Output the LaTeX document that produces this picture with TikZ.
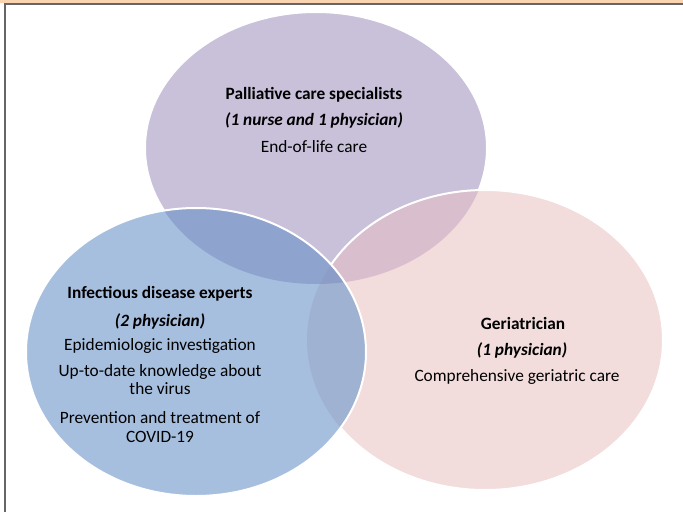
\documentclass[tikz,border=0pt]{standalone}
\usepackage{fontspec}
\setmainfont{Carlito}
\definecolor{cPur}{HTML}{C9C0DA}
\definecolor{cPnk}{HTML}{F2DCDC}
\definecolor{cBlu}{HTML}{A7BFDF}
\definecolor{cPurPnk}{HTML}{D9BECE}
\definecolor{cPurBlu}{HTML}{8EA3CD}
\definecolor{cBluPnk}{HTML}{A0B2D1}
\definecolor{cAll}{HTML}{8C9EC8}
\definecolor{cPeach}{HTML}{FAD4B0}
\definecolor{cFrame}{HTML}{666666}
\tikzset{
  edge/.style={draw=white, line width=2pt},
  lbl/.style={anchor=base, inner sep=0pt, font=\fontsize{17.3}{20}\selectfont, text=black},
  hd/.style={lbl, font=\fontsize{17.3}{20}\selectfont\bfseries},
  sub/.style={lbl, font=\fontsize{17.3}{20}\selectfont\bfseries\itshape},
}
\newcommand{\PurE}{(316,-148) ellipse [x radius=171, y radius=136]}
\newcommand{\BluE}{(196,-352) ellipse [x radius=170, y radius=144]}
\newcommand{\PnkE}{(485,-340) ellipse [x radius=178, y radius=150]}
\begin{document}
\begin{tikzpicture}[x=1pt,y=1pt]
\useasboundingbox (0,0) rectangle (683,-512);
\fill[white] (0,0) rectangle (683,-512);
% frame
\fill[cPeach] (0,0) rectangle (683,-3.2);
\draw[cFrame, line width=1.6pt] (683,-4) -- (5,-4) -- (5,-512);
% purple
\fill[cPur] \PurE;
\draw[edge] \PurE;
% pink
\fill[cPnk] \PnkE;
\begin{scope}
  \clip \PurE;
  \fill[cPurPnk] \PnkE;
\end{scope}
\draw[edge] \PnkE;
% blue
\fill[cBlu] \BluE;
\begin{scope}
  \clip \BluE;
  \fill[cPurBlu] \PurE;
  \fill[cBluPnk] \PnkE;
  \clip \PurE;
  \fill[cAll] \PnkE;
\end{scope}
\draw[edge] \BluE;
% texts: palliative
\node[hd]  (p1) at (314,-99)  {Palliative care specialists};
\node[sub] (p2) at (314,-125) {(1 nurse and 1 physician)};
\node[lbl] (p3) at (314,-152) {End-of-life care};
% infectious
\node[hd]  (i1) at (160,-298) {Infectious disease experts};
\node[sub] (i2) at (160,-326) {(2 physician)};
\node[lbl] (i3) at (160,-350) {Epidemiologic investigation};
\node[lbl] (i4) at (160,-376) {Up-to-date knowledge about};
\node[lbl] (i5) at (160,-394) {the virus};
\node[lbl] (i6) at (160,-423) {Prevention and treatment of};
\node[lbl] (i7) at (160,-442) {COVID-19};
% geriatrician
\node[hd]  (g1) at (523,-329) {Geriatrician};
\node[sub] (g2) at (522,-355) {(1 physician)};
\node[lbl] (g3) at (517,-381) {Comprehensive geriatric care};
\end{tikzpicture}
\end{document}
